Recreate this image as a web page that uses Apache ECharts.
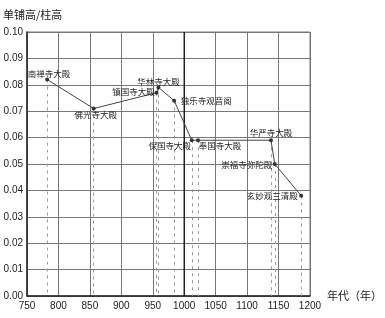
<!DOCTYPE html>
<html><head><meta charset="utf-8">
<script src="https://cdn.jsdelivr.net/npm/echarts@6/dist/echarts.min.js"></script>
<style>html,body{margin:0;padding:0;background:#fff}#c{width:385px;height:318px}</style>
</head><body><div id="c"></div>
<script>
const names = ['南禅寺大殿','佛光寺大殿','镇国寺大殿','华林寺大殿','独乐寺观音阁','保国寺大殿','奉国寺大殿','华严寺大殿','崇福寺弥陀殿','玄妙观三清殿'];
const years = [782, 856, 956, 959, 984, 1012, 1022, 1138, 1144, 1186];
const ratios = [0.082, 0.071, 0.077, 0.079, 0.074, 0.059, 0.059, 0.059, 0.050, 0.038];
const xTicks = [750,800,850,900,950,1000,1050,1100,1150,1200];
const yTicks = [0.00,0.01,0.02,0.03,0.04,0.05,0.06,0.07,0.08,0.09,0.10];
const labelOffsets = [[2,-6],[2,6],[-23,-1],[0,-6],[32,0],[-22,6],[22,6],[0,-7],[-28,1],[-29,0]];

const chart = echarts.init(document.getElementById('c'));
const font = 'Liberation Sans, Arial, sans-serif';
chart.setOption({
  backgroundColor:'#fff',
  animation:false,
  grid:{left:27,right:69,top:32,bottom:22,show:true,borderColor:'#777',borderWidth:1},
  xAxis:{type:'value',min:xTicks[0],max:xTicks[xTicks.length-1],interval:50,
    name:'年代（年）',nameLocation:'end',nameGap:4,
    nameTextStyle:{color:'#222',fontSize:11,fontFamily:'Noto Sans CJK SC',verticalAlign:'middle'},
    axisLine:{show:true,lineStyle:{color:'#222',width:1.5}},axisTick:{show:false},
    axisLabel:{color:'#222',fontSize:10,fontFamily:font,margin:5,formatter:v=>String(v)},
    splitLine:{show:true,lineStyle:{color:'#777',width:1}}},
  yAxis:{type:'value',min:yTicks[0],max:yTicks[yTicks.length-1],interval:0.01,
    name:'单铺高/柱高',nameLocation:'end',nameGap:12,
    nameTextStyle:{color:'#222',fontSize:11,fontFamily:'Noto Sans CJK SC',align:'left',padding:[0,0,0,-24]},
    axisLine:{show:true,lineStyle:{color:'#222',width:1.5}},axisTick:{show:false},
    axisLabel:{color:'#222',fontSize:10,fontFamily:font,margin:4,formatter:v=>v.toFixed(2)},
    splitLine:{show:true,lineStyle:{color:'#777',width:1}}},
  series:[
    {type:'line',
     symbol:'circle',symbolSize:4,
     lineStyle:{color:'#444',width:1},itemStyle:{color:'#333'},
     label:{show:true,position:'inside',fontSize:8.5,color:'#222',fontFamily:'Noto Sans CJK SC',
       formatter:p=>names[p.dataIndex]},
     data:years.map((y,i)=>({value:[y,ratios[i]],label:{offset:labelOffsets[i]}})),
     markLine:{silent:true,symbol:'none',label:{show:false},
       lineStyle:{color:'#999',type:[3,4],width:1},
       data:years.map((y,i)=>[{coord:[y,ratios[i]]},{coord:[y,0]}])},
     z:5},
    {type:'line',data:[[1000,0],[1000,0.1]],symbol:'none',silent:true,
     lineStyle:{color:'#111',width:1.3},z:2}
  ]
});
</script></body></html>
